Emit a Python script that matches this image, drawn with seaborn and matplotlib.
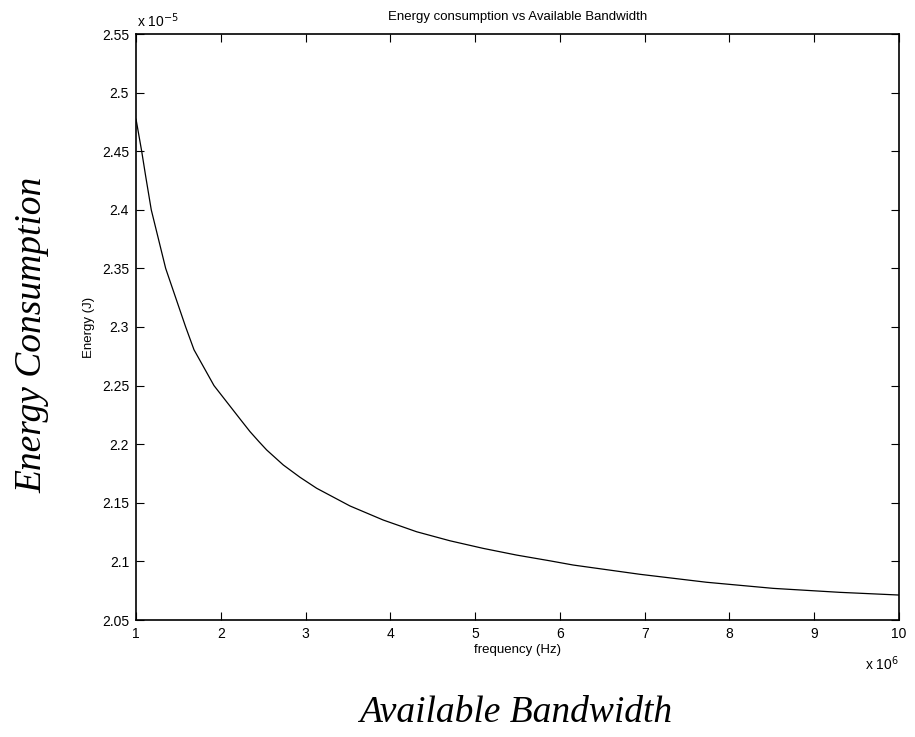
import matplotlib
matplotlib.use("Agg")
import matplotlib.pyplot as plt
import seaborn as sns
import pandas as pd

# frequency in units of 1e6 Hz, energy in units of 1e-5 J
frequency_1e6 = [1.0, 1.067, 1.114, 1.18, 1.35, 1.586, 1.684, 1.92, 2.235, 2.344, 2.45,
                 2.541, 2.737, 2.934, 3.131, 3.524, 3.916, 4.31, 4.703, 5.096, 5.489,
                 5.882, 6.157, 6.943, 7.73, 8.515, 9.302, 10.0]
energy_1e5 = [2.4775, 2.45, 2.4287, 2.40, 2.35, 2.30, 2.2806, 2.25, 2.2208, 2.2108, 2.2022,
              2.1951, 2.1823, 2.1718, 2.1624, 2.1473, 2.1353, 2.1253, 2.1176, 2.1111, 2.1054,
              2.1005, 2.0969, 2.0890, 2.0822, 2.0770, 2.0736, 2.0713]
x_ticks = [1, 2, 3, 4, 5, 6, 7, 8, 9, 10]
y_ticks = [2.05, 2.1, 2.15, 2.2, 2.25, 2.3, 2.35, 2.4, 2.45, 2.5, 2.55]
y_tick_labels = ["2.05", "2.1", "2.15", "2.2", "2.25", "2.3", "2.35", "2.4", "2.45", "2.5", "2.55"]

df = pd.DataFrame({"f": frequency_1e6, "E": energy_1e5})

sns.set_theme(style="white")
plt.rcParams["font.family"] = ["Liberation Sans", "DejaVu Sans"]
plt.rcParams["text.color"] = "black"
plt.rcParams["axes.labelcolor"] = "black"

fig = plt.figure(figsize=(9.15, 7.37), dpi=100)
ax = fig.add_axes([136 / 915, 1 - 620 / 737, (899 - 136) / 915, (620 - 34) / 737])

sns.lineplot(data=df, x="f", y="E", ax=ax, color="black", linewidth=0.9)

ax.set_xlim(1, 10)
ax.set_ylim(2.05, 2.55)
ax.set_xticks(x_ticks)
ax.set_xticklabels([str(t) for t in x_ticks])
ax.set_yticks(y_ticks)
ax.set_yticklabels(y_tick_labels)
ax.tick_params(direction="in", length=6, width=0.8, top=True, right=True,
               bottom=True, left=True, labelsize=10, colors="black", pad=5)
for s in ax.spines.values():
    s.set_visible(True)
    s.set_color("black")
    s.set_linewidth(1.2)
ax.set_facecolor("white")

ax.set_xlabel("frequency (Hz)", fontsize=9.5, labelpad=2, color="black")
ax.set_ylabel("Energy (J)", fontsize=9.5, labelpad=5, color="black")
ax.set_title("Energy consumption vs Available Bandwidth", fontsize=9.5, pad=10, color="black")

fig.text(137 / 915, 1 - 21 / 737, r"x 10$^{-5}$", fontsize=10, ha="left", va="center",
         color="black")
fig.text(899 / 915, 1 - 664 / 737, r"x 10$^{6}$", fontsize=10, ha="right", va="center",
         color="black")

serif = ["Liberation Serif", "DejaVu Serif"]
fig.text(32 / 915, 1 - 335 / 737, "Energy Consumption", fontsize=27, style="italic",
         family=serif, rotation=90, ha="center", va="center", color="black")
fig.text(516 / 915, 1 - 713 / 737, "Available Bandwidth", fontsize=27, style="italic",
         family=serif, ha="center", va="center", color="black")

fig.savefig("out.png", dpi=100, facecolor="white")
